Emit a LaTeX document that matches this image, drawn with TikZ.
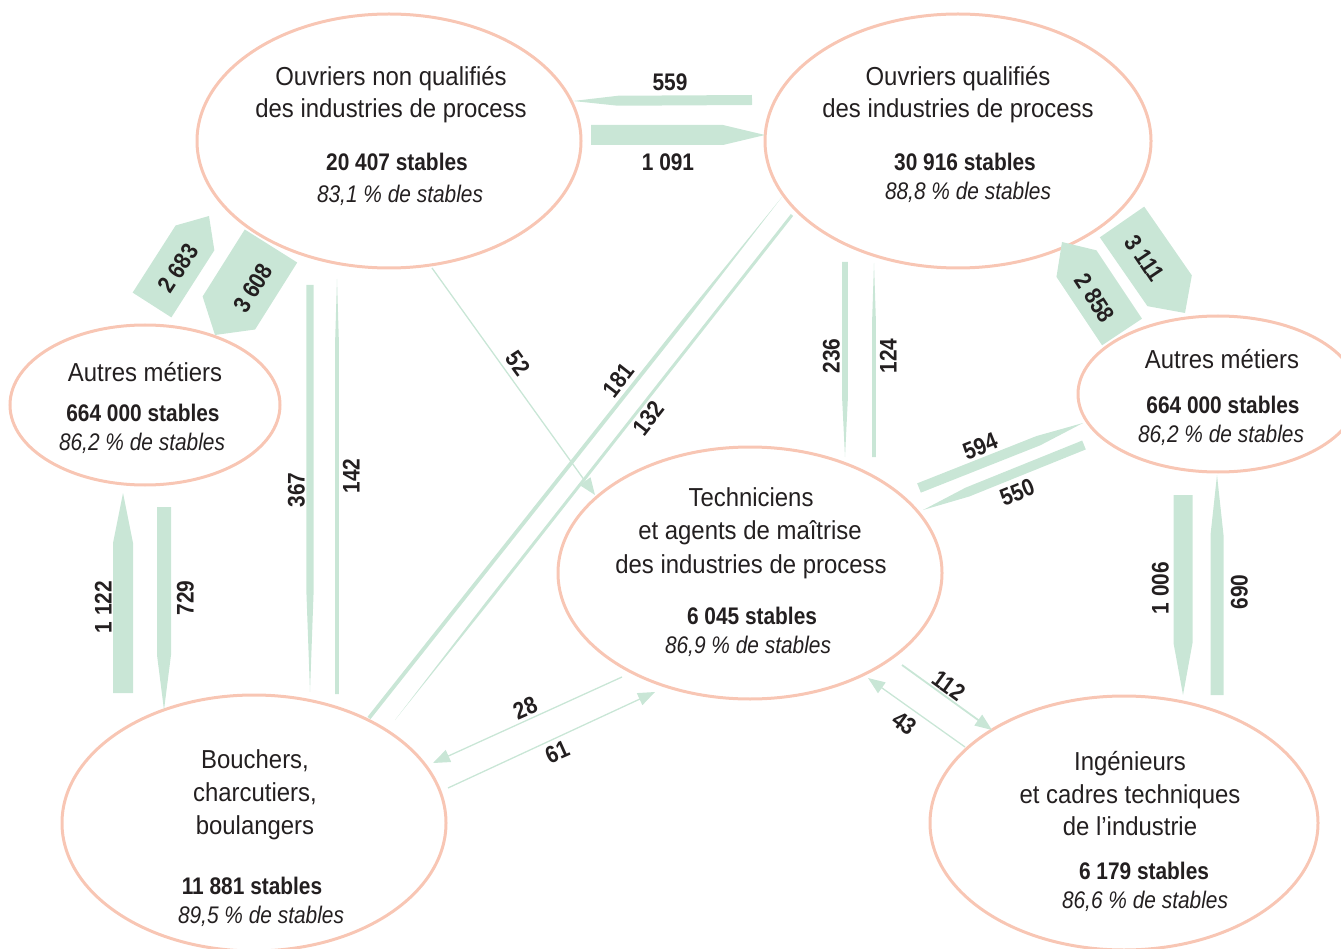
\documentclass[tikz,border=0pt]{standalone}
\usepackage{fontspec}
\setmainfont{Liberation Sans}[FakeStretch=0.87]
\newfontfamily\namefont{Liberation Sans}[FakeStretch=0.92]
\usetikzlibrary{shapes.geometric,calc,arrows.meta}
\definecolor{flowgreen}{RGB}{201,230,214}
\definecolor{ellcol}{RGB}{248,198,180}
\definecolor{txtcol}{RGB}{35,31,32}
\newcommand\flowarrow[4]{%
  \coordinate (tmpm) at ($(#2)!#4!(#1)$);
  \fill[flowgreen] ($(#1)!#3!90:(#2)$) -- ($(tmpm)!#3!90:(#2)$) -- (#2) --
    ($(tmpm)!#3!-90:(#2)$) -- ($(#1)!#3!-90:(#2)$) -- cycle;}
\tikzset{
  ellbox/.style={ellipse, draw=ellcol, line width=3pt, inner sep=0pt},
  nametxt/.style={inner sep=0pt, text height=18.6pt, text depth=0pt, font=\namefont\fontsize{26}{30}\selectfont, text=txtcol},
  stabtxt/.style={inner sep=0pt, text height=17.2pt, text depth=0pt, font=\fontsize{24}{28}\selectfont\bfseries, text=txtcol},
  pcttxt/.style={inner sep=0pt, text height=17.2pt, text depth=0pt, font=\fontsize{24}{28}\selectfont\itshape, text=txtcol},
  flowlabel/.style={inner sep=0pt, text height=17.2pt, text depth=0pt, font=\fontsize{24}{28}\selectfont\bfseries, text=txtcol},
  thinflow/.style={draw=flowgreen, line width=1.3pt, -{Triangle[length=17pt,width=13pt]}}
}
\begin{document}
\begin{tikzpicture}[x=1pt,y=-1pt]
\useasboundingbox (0,0) rectangle (1341,949);
\clip (0,0) rectangle (1341,949);

% ---------- ellipses ----------
\node[ellbox, minimum width=384pt, minimum height=254pt] (onq) at (389,141) {};
\node[ellbox, minimum width=386pt, minimum height=254pt] (oq) at (958,141) {};
\node[ellbox, minimum width=270pt, minimum height=160pt] (aml) at (145,405) {};
\node[ellbox, minimum width=280pt, minimum height=156pt] (amr) at (1218,394) {};
\node[ellbox, minimum width=384pt, minimum height=252pt] (tech) at (750,573) {};
\node[ellbox, minimum width=384pt, minimum height=256pt] (bch) at (254,823) {};
\node[ellbox, minimum width=388pt, minimum height=254pt] (ing) at (1124,823) {};

% ---------- flow coordinates ----------
\coordinate (f559s) at (752,100);  \coordinate (f559e) at (573,101);
\coordinate (f1091s) at (591,135); \coordinate (f1091e) at (765,135);
\coordinate (f2683s) at (152,305); \coordinate (f2683e) at (209,216);
\coordinate (f3608s) at (271,246); \coordinate (f3608e) at (215,335);
\coordinate (f3111s) at (1122,222); \coordinate (f3111e) at (1185,313);
\coordinate (f2858s) at (1122,332); \coordinate (f2858e) at (1062,242);
\coordinate (f1122s) at (123,693); \coordinate (f1122e) at (123,493);
\coordinate (f729s) at (164,507);  \coordinate (f729e) at (164,710);
\coordinate (f1006s) at (1183,495); \coordinate (f1006e) at (1183,695);
\coordinate (f690s) at (1217,695); \coordinate (f690e) at (1217,475);
\coordinate (f367s) at (310,285);  \coordinate (f367e) at (310,692);
\coordinate (f142s) at (337,694);  \coordinate (f142e) at (337,279);
\coordinate (f236s) at (845,262);  \coordinate (f236e) at (845,457);
\coordinate (f124s) at (874,457);  \coordinate (f124e) at (874,263);
\coordinate (f594s) at (919,488);  \coordinate (f594e) at (1083,423);
\coordinate (f550s) at (1084,445); \coordinate (f550e) at (923,510);
\coordinate (f181s) at (369,718);  \coordinate (f181e) at (782,197);
\coordinate (f132s) at (792,215);  \coordinate (f132e) at (395,720);
\coordinate (f52s) at (432,268);   \coordinate (f52e) at (595,495);
\coordinate (f28s) at (622,677);   \coordinate (f28e) at (433,763);
\coordinate (f61s) at (448,788);   \coordinate (f61e) at (655,692);
\coordinate (f112s) at (902,665);  \coordinate (f112e) at (992,730);
\coordinate (f43s) at (965,747);   \coordinate (f43e) at (868,678);

% ---------- broad flows ----------
\flowarrow{f559s}{f559e}{5pt}{45pt}
\flowarrow{f1091s}{f1091e}{10pt}{42pt}
\flowarrow{f2683s}{f2683e}{23pt}{26pt}
\flowarrow{f3608s}{f3608e}{31pt}{26pt}
\flowarrow{f3111s}{f3111e}{27pt}{27pt}
\flowarrow{f2858s}{f2858e}{24pt}{26pt}
\flowarrow{f1122s}{f1122e}{10pt}{50pt}
\flowarrow{f729s}{f729e}{7pt}{55pt}
\flowarrow{f1006s}{f1006e}{9.5pt}{52pt}
\flowarrow{f690s}{f690e}{6.5pt}{60pt}
\flowarrow{f367s}{f367e}{3.6pt}{100pt}
\flowarrow{f142s}{f142e}{1.8pt}{60pt}
\flowarrow{f236s}{f236e}{2.8pt}{57pt}
\flowarrow{f124s}{f124e}{1.8pt}{55pt}
\flowarrow{f594s}{f594e}{5pt}{48pt}
\flowarrow{f550s}{f550e}{4.8pt}{48pt}
\flowarrow{f181s}{f181e}{1.9pt}{150pt}
\flowarrow{f132s}{f132e}{1.5pt}{150pt}

% ---------- thin flows ----------
\draw[thinflow] (f52s) -- (f52e);
\draw[thinflow] (f28s) -- (f28e);
\draw[thinflow] (f61s) -- (f61e);
\draw[thinflow, line width=1.8pt] (f112s) -- (f112e);
\draw[thinflow] (f43s) -- (f43e);

% ---------- flow labels ----------
\node[flowlabel] (l559) at (670,82) {559};
\node[flowlabel] (l1091) at (668,162) {1 091};
\node[flowlabel, rotate=57] (l2683) at (178,268) {2 683};
\node[flowlabel, rotate=58] (l3608) at (253,288) {3 608};
\node[flowlabel, rotate=-56] (l3111) at (1145,258) {3 111};
\node[flowlabel, rotate=-57] (l2858) at (1095,298) {2 858};
\node[flowlabel, rotate=90] (l1122) at (103,607) {1 122};
\node[flowlabel, rotate=90] (l729) at (185,598) {729};
\node[flowlabel, rotate=90] (l1006) at (1160,588) {1 006};
\node[flowlabel, rotate=90] (l690) at (1239,592) {690};
\node[flowlabel, rotate=90] (l367) at (296,490) {367};
\node[flowlabel, rotate=90] (l142) at (351,476) {142};
\node[flowlabel, rotate=90] (l236) at (831,356) {236};
\node[flowlabel, rotate=90] (l124) at (888,356) {124};
\node[flowlabel, rotate=22] (l594) at (980,446) {594};
\node[flowlabel, rotate=22] (l550) at (1017,492) {550};
\node[flowlabel, rotate=52] (l181) at (618,380) {181};
\node[flowlabel, rotate=52] (l132) at (648,418) {132};
\node[flowlabel, rotate=-54] (l52) at (518,363) {52};
\node[flowlabel, rotate=24] (l28) at (525,708) {28};
\node[flowlabel, rotate=24] (l61) at (557,752) {61};
\node[flowlabel, rotate=-36] (l112) at (949,685) {112};
\node[flowlabel, rotate=-36] (l43) at (905,723) {43};

% ---------- ellipse texts ----------
\node[nametxt] (onq1) at (391,76) {Ouvriers non qualifiés};
\node[nametxt] (onq2) at (391,108) {des industries de process};
\node[stabtxt] (onq3) at (397,162) {20 407 stables};
\node[pcttxt] (onq4) at (400,194) {83,1 \% de stables};

\node[nametxt] (oq1) at (958,76) {Ouvriers qualifiés};
\node[nametxt] (oq2) at (958,108) {des industries de process};
\node[stabtxt] (oq3) at (965,162) {30 916 stables};
\node[pcttxt] (oq4) at (968,191) {88,8 \% de stables};

\node[nametxt] (aml1) at (145,372) {Autres métiers};
\node[stabtxt] (aml2) at (143,413) {664 000 stables};
\node[pcttxt] (aml3) at (142,442) {86,2 \% de stables};

\node[nametxt] (amr1) at (1222,359) {Autres métiers};
\node[stabtxt] (amr2) at (1223,405) {664 000 stables};
\node[pcttxt] (amr3) at (1221,434) {86,2 \% de stables};

\node[nametxt] (tech1) at (751,497) {Techniciens};
\node[nametxt] (tech2) at (750,530) {et agents de maîtrise};
\node[nametxt] (tech3) at (751,564) {des industries de process};
\node[stabtxt] (tech4) at (752,616) {6 045 stables};
\node[pcttxt] (tech5) at (748,645) {86,9 \% de stables};

\node[nametxt] (bch1) at (255,759) {Bouchers,};
\node[nametxt] (bch2) at (255,792) {charcutiers,};
\node[nametxt] (bch3) at (255,825) {boulangers};
\node[stabtxt] (bch4) at (252,886) {11 881 stables};
\node[pcttxt] (bch5) at (261,915) {89,5 \% de stables};

\node[nametxt] (ing1) at (1130,761) {Ingénieurs};
\node[nametxt] (ing2) at (1130,794) {et cadres techniques};
\node[nametxt] (ing3) at (1130,826) {de l’industrie};
\node[stabtxt] (ing4) at (1144,871) {6 179 stables};
\node[pcttxt] (ing5) at (1145,900) {86,6 \% de stables};
\end{tikzpicture}
\end{document}
